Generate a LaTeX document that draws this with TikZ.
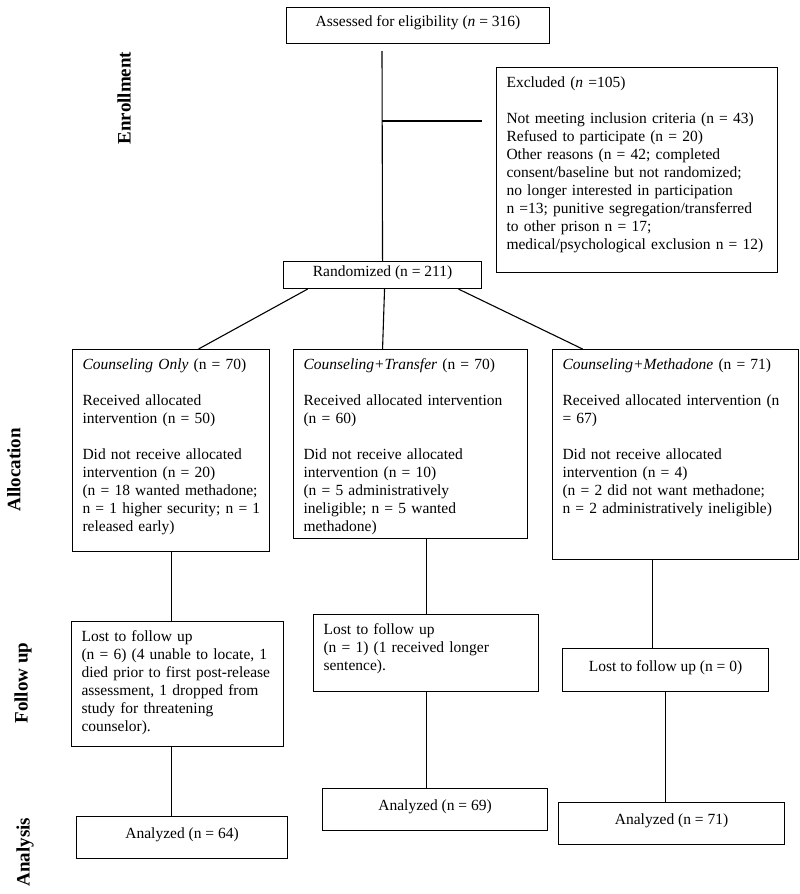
\documentclass[tikz,border=0pt]{standalone}
\usepackage{fontspec}
\setmainfont{Liberation Serif}

\def\lw{1.1pt}
\tikzset{
	box/.style={draw, line width=\lw, anchor=north west, align=left,
		inner xsep=10pt, inner ysep=8pt, text height=12pt},
	onebox/.style={draw, line width=\lw, anchor=north west, inner sep=0pt,
		text height=10pt, text depth=8pt},
	stage/.style={rotate=90, font=\fontsize{19}{20}\selectfont\bfseries},
	link/.style={line width=\lw}
}

\begin{document}
\begin{tikzpicture}[x=1pt,y=-1pt,font=\fontsize{15.5}{18}\selectfont]

\useasboundingbox (0,0) rectangle (800,894);

% stages
\node[stage] (enrol) at (124,98) {Enrollment};
\node[stage] (alloc) at (14,470) {Allocation};
\node[stage] (follow) at (23,683) {Follow up};
\node[stage] (anal) at (25,852) {Analysis};

% enrollment
\node[onebox, minimum width=263pt, minimum height=36pt] (assess) at (286,7)
	{Assessed for eligibility (\textit{n} = 316)};
\node[box, text width=261pt, text depth=177pt] (excl) at (496,67)
	{Excluded (\textit{n} =105)\\[18pt]
	Not meeting inclusion criteria (n = 43)\\
	Refused to participate (n = 20)\\
	Other reasons (n = 42; completed\\
	consent/baseline but not randomized;\\
	no longer interested in participation\\
	n =13; punitive segregation/transferred\\
	to other prison n = 17;\\
	medical/psychological exclusion n = 12)};
\node[onebox, minimum width=198pt, minimum height=27pt] (rand) at (283,261)
	{Randomized (n = 211)};

\coordinate (trunk) at (382,51);
\coordinate (branch) at (382,121);
\coordinate (branchend) at (482,121);
\draw[link] (trunk) -- (rand.north);
\draw[link] (branch) -- (branchend);

% allocation
\node[box, text width=177pt, text depth=174pt] (co) at (72,349)
	{\textit{Counseling Only} (n = 70)\\[18pt]
	Received allocated\\
	intervention (n = 50)\\[18pt]
	Did not receive allocated\\
	intervention (n = 20)\\
	\mbox{(n = 18 wanted methadone;}\\
	\mbox{n = 1 higher security; n = 1}\\
	released early)};
\node[box, text width=214pt, text depth=161pt] (tr) at (293,349)
	{\textit{Counseling+Transfer} (n = 70)\\[18pt]
	Received allocated intervention\\
	(n = 60)\\[18pt]
	Did not receive allocated\\
	intervention (n = 10)\\
	(n = 5 administratively\\
	ineligible; n = 5 wanted\\
	methadone)};
\node[box, text width=226pt, text depth=182pt] (me) at (552,349)
	{\textit{Counseling+Methadone} (n = 71)\\[18pt]
	Received allocated intervention (n\\
	= 67)\\[18pt]
	Did not receive allocated\\
	intervention (n = 4)\\
	(n = 2 did not want methadone;\\
	n = 2 administratively ineligible)};

\draw[link] ([xshift=-75pt]rand.south) -- ([xshift=27.5pt]co.north);
\draw[link] ([xshift=2pt]rand.south) -- ([xshift=-28pt]tr.north);
\draw[link] ([xshift=76pt]rand.south) -- ([xshift=-93pt]me.north);

% follow up
\node[box, text width=192pt, text depth=97pt] (lostA) at (71,621)
	{Lost to follow up\\
	(n = 6) (4 unable to locate, 1\\
	died prior to first post-release\\
	assessment, 1 dropped from\\
	study for threatening\\
	counselor).};
\node[box, text width=205pt, text depth=49pt] (lostB) at (313,614)
	{Lost to follow up\\
	(n = 1) (1 received longer\\
	sentence).};
\node[onebox, minimum width=206pt, minimum height=43pt] (lostC) at (562,648)
	{Lost to follow up (n = 0)};

\draw[link] (co.south) -- (co.south |- lostA.north);
\draw[link] (lostB.north |- tr.south) -- (lostB.north);
\draw[link] ([xshift=-13pt]lostC.north |- me.south) -- ([xshift=-13pt]lostC.north);

% analysis
\node[onebox, minimum width=211pt, minimum height=42pt] (anaA) at (76,816)
	{Analyzed (n = 64)};
\node[onebox, minimum width=225pt, minimum height=42pt] (anaB) at (322,788)
	{Analyzed (n = 69)};
\node[onebox, minimum width=226pt, minimum height=42pt] (anaC) at (558,802)
	{Analyzed (n = 71)};

\draw[link] (co.south |- lostA.south) -- (co.south |- anaA.north);
\draw[link] (lostB.south) -- (lostB.south |- anaB.north);
\draw[link] (lostC.south) -- (lostC.south |- anaC.north);

\end{tikzpicture}
\end{document}
